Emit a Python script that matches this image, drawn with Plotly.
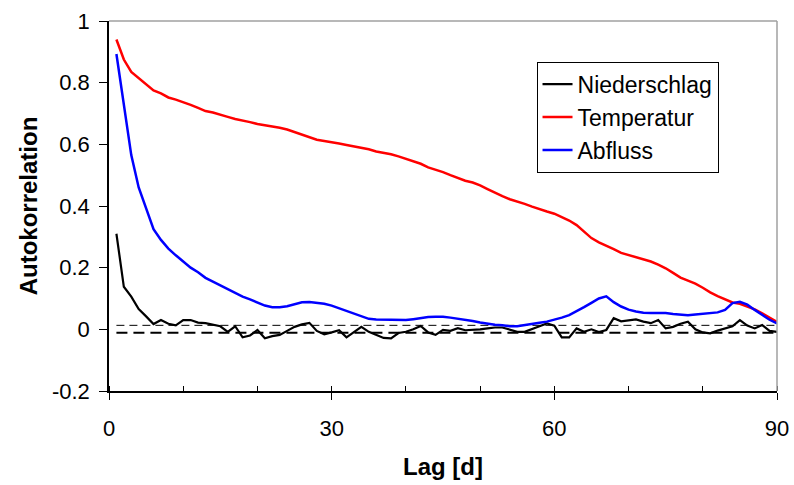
import plotly.graph_objects as go

lags = list(range(1, 91))

niederschlag = [0.31, 0.138, 0.106, 0.066, 0.042, 0.017, 0.030, 0.018, 0.013, 0.030,
                0.030, 0.022, 0.020, 0.015, 0.010, -0.008, 0.010, -0.026, -0.020, -0.002,
                -0.029, -0.022, -0.018, -0.005, 0.008, 0.016, 0.021, -0.005, -0.016, -0.010,
                -0.003, -0.026, -0.010, 0.008, -0.008, -0.018, -0.028, -0.029, -0.012, -0.008,
                0.000, 0.011, -0.010, -0.018, -0.002, -0.005, 0.004, -0.003, -0.002, 0.000,
                0.003, 0.006, 0.006, -0.002, -0.008, -0.008, 0.000, 0.010, 0.019, 0.012,
                -0.026, -0.026, 0.003, -0.008, 0.000, -0.009, -0.002, 0.036, 0.026, 0.030,
                0.032, 0.025, 0.020, 0.030, 0.003, 0.008, 0.018, 0.025, 0.000, -0.010,
                -0.013, -0.004, 0.002, 0.010, 0.030, 0.012, 0.003, 0.014, -0.005, -0.008]

temperatur = [0.94, 0.875, 0.835, 0.815, 0.795, 0.775, 0.765, 0.752, 0.745, 0.737,
              0.728, 0.718, 0.708, 0.703, 0.697, 0.689, 0.682, 0.678, 0.672, 0.666,
              0.662, 0.659, 0.654, 0.648, 0.640, 0.632, 0.623, 0.615, 0.611, 0.608,
              0.603, 0.598, 0.594, 0.590, 0.584, 0.577, 0.573, 0.568, 0.561, 0.553,
              0.545, 0.537, 0.525, 0.518, 0.510, 0.500, 0.490, 0.482, 0.476, 0.467,
              0.455, 0.443, 0.432, 0.422, 0.415, 0.407, 0.398, 0.389, 0.382, 0.375,
              0.365, 0.353, 0.338, 0.318, 0.296, 0.282, 0.272, 0.260, 0.248, 0.241,
              0.234, 0.228, 0.220, 0.210, 0.198, 0.183, 0.168, 0.158, 0.148, 0.135,
              0.120, 0.108, 0.097, 0.087, 0.083, 0.075, 0.065, 0.052, 0.038, 0.024]

abfluss = [0.893, 0.735, 0.565, 0.460, 0.390, 0.325, 0.290, 0.262, 0.240, 0.220,
           0.200, 0.185, 0.167, 0.155, 0.143, 0.130, 0.118, 0.106, 0.097, 0.086,
           0.077, 0.072, 0.072, 0.075, 0.082, 0.088, 0.089, 0.087, 0.083, 0.077,
           0.068, 0.059, 0.050, 0.041, 0.034, 0.032, 0.032, 0.032, 0.032, 0.030,
           0.033, 0.037, 0.040, 0.041, 0.041, 0.038, 0.035, 0.031, 0.027, 0.022,
           0.018, 0.015, 0.013, 0.010, 0.010, 0.013, 0.017, 0.021, 0.025, 0.031,
           0.038, 0.046, 0.058, 0.072, 0.086, 0.100, 0.107, 0.088, 0.074, 0.064,
           0.058, 0.054, 0.053, 0.053, 0.053, 0.050, 0.048, 0.046, 0.048, 0.050,
           0.051, 0.055, 0.063, 0.085, 0.089, 0.080, 0.063, 0.047, 0.031, 0.019]

upper_bound = 0.013
lower_bound = -0.011

x_ticks = [0, 30, 60, 90]
y_ticks = [-0.2, 0, 0.2, 0.4, 0.6, 0.8, 1]
y_tick_labels = ["-0.2", "0", "0.2", "0.4", "0.6", "0.8", "1"]

FONT = "Liberation Sans, Arial, sans-serif"

fig = go.Figure()

fig.add_trace(go.Scatter(x=[lags[0], lags[-1]], y=[upper_bound, upper_bound], mode="lines",
                         line=dict(color="black", width=1, dash="8px,5px"),
                         showlegend=False, hoverinfo="skip"))
fig.add_trace(go.Scatter(x=[lags[0], lags[-1]], y=[lower_bound, lower_bound], mode="lines",
                         line=dict(color="black", width=2, dash="11px,6px"),
                         showlegend=False, hoverinfo="skip"))

fig.add_trace(go.Scatter(x=lags, y=niederschlag, mode="lines", name="Niederschlag",
                         line=dict(color="black", width=2.2), legendgroup="a"))
fig.add_trace(go.Scatter(x=lags, y=temperatur, mode="lines", name="Temperatur",
                         line=dict(color="#ff0000", width=2.5), legendgroup="b"))
fig.add_trace(go.Scatter(x=lags, y=abfluss, mode="lines", name="Abfluss",
                         line=dict(color="#0000ff", width=2.5), legendgroup="c"))

fig.update_layout(
    width=794, height=485,
    margin=dict(l=109, r=17, t=21, b=94),
    paper_bgcolor="white", plot_bgcolor="white",
    font=dict(family=FONT, size=22, color="black"),
    legend=dict(x=0.640, y=0.89, xanchor="left", yanchor="top",
                bordercolor="black", borderwidth=1, bgcolor="white",
                font=dict(size=23), tracegroupgap=0, itemwidth=30,
                traceorder="normal"),
    xaxis=dict(range=[0, 90], tickvals=x_ticks, ticks="outside", ticklen=7,
               tickcolor="black", tickwidth=1, showgrid=False, zeroline=False,
               showline=True, linecolor="black", linewidth=1.5, automargin=False,
               ticklabelstandoff=10,
               minor=dict(dtick=10, ticks="inside", ticklen=5, tickcolor="black", tickwidth=1),
               title=dict(text="<b>Lag [d]</b>", font=dict(size=24), standoff=18),
               tickfont=dict(size=22)),
    yaxis=dict(range=[-0.2, 1], tickvals=y_ticks, ticktext=y_tick_labels,
               ticks="outside", ticklen=8, tickcolor="black", tickwidth=1,
               showgrid=False, zeroline=False, showline=True, linecolor="black", linewidth=1.5,
               automargin=False, ticklabelstandoff=5,
               title=dict(text="<b>Autokorrelation</b>", font=dict(size=24), standoff=8),
               tickfont=dict(size=22)),
    shapes=[
        dict(type="line", xref="paper", yref="paper", x0=0, x1=1, y0=1, y1=1,
             line=dict(color="#a0a0a0", width=1.5)),
        dict(type="line", xref="paper", yref="paper", x0=1, x1=1, y0=0, y1=1,
             line=dict(color="#a0a0a0", width=1.5)),
    ],
)

fig.write_html("out.html")
